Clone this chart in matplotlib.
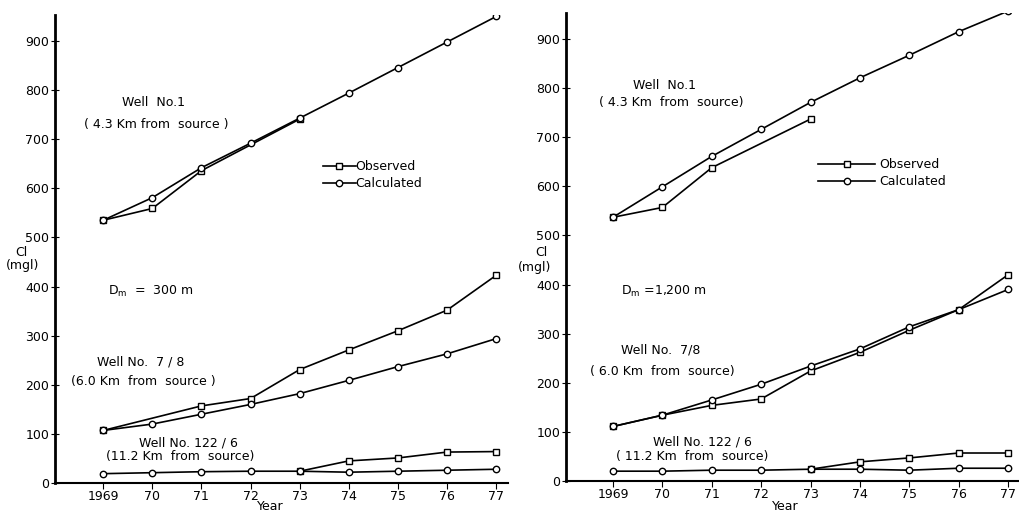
import matplotlib
matplotlib.use("Agg")
import matplotlib.pyplot as plt
from matplotlib.lines import Line2D

plt.rcParams['font.family'] = ['DejaVu Sans']

years = [1969, 1970, 1971, 1972, 1973, 1974, 1975, 1976, 1977]
year_labels = ["1969", "70", "71", "72", "73", "74", "75", "76", "77"]
yticks = [0, 100, 200, 300, 400, 500, 600, 700, 800, 900]

# ---- Left panel (Dm = 300 m) ----
L_w1_calc = [535, 581, 642, 692, 743, 794, 846, 898, 950]
L_w1_obs_years = [1969, 1970, 1971, 1973]
L_w1_obs = [535, 559, 636, 741]
L_w78_calc = [107, 120, 140, 160, 182, 209, 237, 263, 294]
L_w78_obs_years = [1969, 1971, 1972, 1973, 1974, 1975, 1976, 1977]
L_w78_obs = [107, 157, 172, 231, 271, 310, 352, 423]
L_w122_calc = [19, 21, 23, 24, 24, 22, 24, 26, 28]
L_w122_obs_years = [1973, 1974, 1975, 1976, 1977]
L_w122_obs = [24, 45, 51, 63, 64]

# ---- Right panel (Dm = 1,200 m) ----
R_w1_calc = [537, 599, 661, 716, 771, 821, 867, 915, 957]
R_w1_obs_years = [1969, 1970, 1971, 1973]
R_w1_obs = [537, 557, 638, 737]
R_w78_calc = [111, 134, 165, 197, 234, 269, 314, 349, 390]
R_w78_obs_years = [1969, 1970, 1971, 1972, 1973, 1974, 1975, 1976, 1977]
R_w78_obs = [111, 134, 154, 167, 224, 262, 307, 349, 420]
R_w122_calc = [20, 20, 22, 22, 24, 24, 22, 26, 26]
R_w122_obs_years = [1973, 1974, 1975, 1976, 1977]
R_w122_obs = [24, 39, 47, 57, 57]

W, H = 1019, 516
fig = plt.figure(figsize=(W / 100, H / 100), dpi=100)

FS = 9
lw = 1.2
circ = dict(marker='o', ms=4.6, mfc='white', mec='black', mew=1.0, color='black', lw=lw)
sq = dict(marker='s', ms=4.6, mfc='white', mec='black', mew=1.0, color='black', lw=lw)


def px_axes(x0, x1, ytop, ybot):
    return fig.add_axes([x0 / W, 1 - ybot / H, (x1 - x0) / W, (ybot - ytop) / H])


def style(ax, xlim):
    ax.set_xlim(*xlim)
    ax.set_ylim(0, 953)
    for s in ['top', 'right']:
        ax.spines[s].set_visible(False)
    ax.spines['left'].set_linewidth(2.0)
    ax.spines['bottom'].set_linewidth(1.5)
    ax.set_xticks(years)
    ax.set_xticklabels(year_labels, fontsize=FS)
    ax.set_yticks(yticks)
    ax.set_yticklabels([str(v) for v in yticks], fontsize=FS)
    ax.tick_params(axis='y', direction='inout', length=6, width=0.8, pad=1)
    ax.tick_params(axis='x', direction='out', length=4, width=0.8, pad=1)
    ax.patch.set_alpha(0)


def draw(ax, w1c, w1oy, w1o, w78c, w78oy, w78o, w122c, w122oy, w122o):
    ax.plot(w1oy, w1o, **sq)
    ax.plot(years, w1c, **circ)
    ax.plot(w78oy, w78o, **sq)
    ax.plot(years, w78c, **circ)
    ax.plot(w122oy, w122o, **sq)
    ax.plot(years, w122c, **circ)


# Left axes
axL = px_axes(55, 508, 15, 483)
style(axL, (1968.02, 1977.24))
draw(axL, L_w1_calc, L_w1_obs_years, L_w1_obs, L_w78_calc, L_w78_obs_years, L_w78_obs,
     L_w122_calc, L_w122_obs_years, L_w122_obs)

axL.text(1970.02, 774, "Well  No.1", fontsize=FS, ha='center', va='center')
axL.text(1970.08, 731, "( 4.3 Km from  source )", fontsize=FS, ha='center', va='center')
axL.text(1969.1, 391, r"D$_\mathrm{m}$  =  300 m", fontsize=FS, ha='left', va='center')
axL.text(1969.76, 246, "Well No.  7 / 8", fontsize=FS, ha='center', va='center')
axL.text(1969.82, 206, "(6.0 Km  from  source )", fontsize=FS, ha='center', va='center')
axL.text(1970.73, 81, "Well No. 122 / 6", fontsize=FS, ha='center', va='center')
axL.text(1970.57, 53, "(11.2 Km  from  source)", fontsize=FS, ha='center', va='center')

hL = [Line2D([], [], **sq), Line2D([], [], **circ)]
axL.legend(hL, ["Observed", "Calculated"], loc='upper left', bbox_to_anchor=(0.592, 0.690),
           frameon=False, fontsize=FS, handlelength=2.6, handletextpad=0.0,
           borderaxespad=0, borderpad=0, labelspacing=0.35, numpoints=1)

# Right axes
axR = px_axes(566, 1019, 13, 481)
style(axR, (1968.05, 1977.22))
draw(axR, R_w1_calc, R_w1_obs_years, R_w1_obs, R_w78_calc, R_w78_obs_years, R_w78_obs,
     R_w122_calc, R_w122_obs_years, R_w122_obs)

axR.text(1970.05, 805, "Well  No.1", fontsize=FS, ha='center', va='center')
axR.text(1970.19, 771, "( 4.3 Km  from  source)", fontsize=FS, ha='center', va='center')
axR.text(1969.16, 385, r"D$_\mathrm{m}$ =1,200 m", fontsize=FS, ha='left', va='center')
axR.text(1969.97, 267, "Well No.  7/8", fontsize=FS, ha='center', va='center')
axR.text(1969.99, 222, "( 6.0 Km  from  source)", fontsize=FS, ha='center', va='center')
axR.text(1970.82, 79, "Well No. 122 / 6", fontsize=FS, ha='center', va='center')
axR.text(1970.6, 49, "( 11.2 Km  from  source)", fontsize=FS, ha='center', va='center')

hR = [Line2D([], [], **sq), Line2D([], [], **circ)]
axR.legend(hR, ["Observed", "Calculated"], loc='upper left', bbox_to_anchor=(0.556, 0.690),
           frameon=False, fontsize=FS, handlelength=4.6, handletextpad=0.3,
           borderaxespad=0, borderpad=0, labelspacing=0.35, numpoints=1)

# Outer labels
fig.text(21 / W, 1 - 253 / H, "Cl", fontsize=FS, ha='center', va='center')
fig.text(23 / W, 1 - 266 / H, "(mgl)", fontsize=FS, ha='center', va='center')
fig.text(541 / W, 1 - 252 / H, "Cl", fontsize=FS, ha='center', va='center')
fig.text(535 / W, 1 - 267 / H, "(mgl)", fontsize=FS, ha='center', va='center')
fig.text(270 / W, 1 - 507 / H, "Year", fontsize=FS, ha='center', va='center')
fig.text(785 / W, 1 - 507 / H, "Year", fontsize=FS, ha='center', va='center')

fig.savefig("out.png", dpi=100, facecolor='white')
